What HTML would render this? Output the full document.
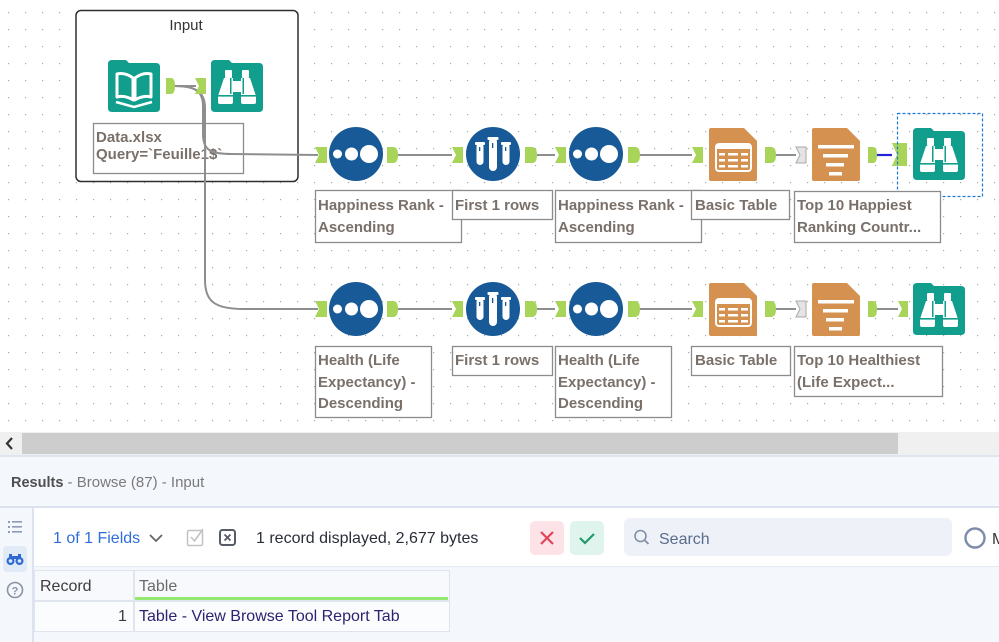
<!DOCTYPE html>
<html><head><meta charset="utf-8">
<style>
html,body{margin:0;padding:0;}
body{width:999px;height:642px;overflow:hidden;position:relative;background:#fff;font-family:"Liberation Sans",Arial,sans-serif;}
.abs{position:absolute;}
.t{position:absolute;white-space:nowrap;}
</style></head>
<body>
<svg class="abs" style="left:0;top:0" width="999" height="432" viewBox="0 0 999 432" xmlns="http://www.w3.org/2000/svg">
<defs>
<pattern id="dots" x="0" y="0" width="17" height="17" patternUnits="userSpaceOnUse">
<rect x="8" y="12" width="1.2" height="1.2" fill="#a9a9a9"/>
</pattern>
<g id="teal">
<path d="M0,4 Q0,0 4,0 H18 L21,3 H48 Q52,3 52,7 V48 Q52,52 48,52 H4 Q0,52 0,48 Z" fill="#119e8d"/>
</g>
<g id="bino">
<use href="#teal"/>
<rect x="14" y="10" width="7" height="8" rx="1" fill="#fff"/>
<rect x="31" y="10" width="7" height="8" rx="1" fill="#fff"/>
<path d="M13,18 H22 V42 Q22,44 20,44 H9 Q7,44 7,42 V36 Z" fill="#fff"/>
<path d="M39,18 H30 V42 Q30,44 32,44 H43 Q45,44 45,42 V36 Z" fill="#fff"/>
<rect x="22" y="21" width="8" height="11" fill="#fff"/>
<rect x="7" y="35" width="15" height="1.6" fill="#119e8d"/>
<rect x="30" y="35" width="15" height="1.6" fill="#119e8d"/>
<rect x="19" y="18" width="1.5" height="16" fill="#119e8d"/>
<rect x="31.5" y="18" width="1.5" height="16" fill="#119e8d"/>
</g>
<g id="doc">
<path d="M2,0 H35 L48,13 V51 Q48,53 46,53 H2 Q0,53 0,51 V2 Q0,0 2,0 Z" fill="#d4914f"/>
</g>
<g id="tbl">
<use href="#doc"/>
<rect x="7" y="16" width="35" height="27" rx="3" fill="none" stroke="#fff" stroke-width="2"/>
<rect x="7" y="16" width="35" height="5" rx="2" fill="#fff"/>
<rect x="10" y="25" width="6" height="2.5" fill="#fff"/><rect x="19" y="25" width="10" height="2.5" fill="#fff"/><rect x="32" y="25" width="7" height="2.5" fill="#fff"/>
<rect x="10" y="31" width="6" height="2.5" fill="#fff"/><rect x="19" y="31" width="10" height="2.5" fill="#fff"/><rect x="32" y="31" width="7" height="2.5" fill="#fff"/>
<rect x="10" y="37" width="6" height="2.5" fill="#fff"/><rect x="19" y="37" width="10" height="2.5" fill="#fff"/><rect x="32" y="37" width="7" height="2.5" fill="#fff"/>
</g>
<g id="lay">
<use href="#doc"/>
<rect x="6" y="17" width="36" height="3.5" fill="#fff"/>
<rect x="11" y="26" width="25" height="3.5" fill="#fff"/>
<rect x="14" y="35" width="18" height="3.5" fill="#fff"/>
<rect x="17" y="44" width="13" height="3.5" fill="#fff"/>
</g>
<g id="sort">
<circle cx="0" cy="0" r="27" fill="#175a97"/>
<circle cx="-18.5" cy="0" r="4.5" fill="#fff"/>
<circle cx="-4.5" cy="0" r="6.5" fill="#fff"/>
<circle cx="13" cy="0" r="9" fill="#fff"/>
</g>
<g id="samp">
<circle cx="0" cy="0" r="27" fill="#175a97"/>
<rect x="-5.5" y="-17" width="11" height="3" rx="1" fill="#fff"/>
<rect x="-4" y="-16" width="8" height="33" rx="4" fill="#fff"/>
<rect x="-18" y="-12" width="10" height="3" rx="1" fill="#fff"/>
<rect x="-16.5" y="-11" width="7" height="22" rx="3.5" fill="#fff"/>
<rect x="8" y="-12" width="10" height="3" rx="1" fill="#fff"/>
<rect x="9.5" y="-11" width="7" height="22" rx="3.5" fill="#fff"/>
<rect x="-1" y="-11" width="1.3" height="5" fill="#175a97"/>
<rect x="-14" y="-7" width="1.3" height="4" fill="#175a97"/>
<rect x="12" y="-7" width="1.3" height="4" fill="#175a97"/>
</g>
</defs>
<rect width="999" height="432" fill="#fff"/>
<rect width="999" height="432" fill="url(#dots)"/>

<!-- Input container -->
<rect x="76" y="10.5" width="222" height="171" rx="5" fill="#fff" stroke="#2e2e2e" stroke-width="1.5"/>
<text x="186" y="30" font-size="15" text-anchor="middle" fill="#333" font-family="Liberation Sans, sans-serif">Input</text>
<!-- input book icon -->
<g transform="translate(108,60)">
<use href="#teal"/>
<path d="M9,14 Q17,12 25,18 V40 Q17,35 9,37 Z" fill="none" stroke="#fff" stroke-width="3" stroke-linejoin="round"/>
<path d="M43,14 Q35,12 27,18 V40 Q35,35 43,37 Z" fill="none" stroke="#fff" stroke-width="3" stroke-linejoin="round"/>
<path d="M8,42 L26,47 L44,42" fill="none" stroke="#fff" stroke-width="2.5"/>
</g>
<use href="#bino" transform="translate(211,60)"/>

<rect x="93.5" y="123.5" width="150" height="50" fill="#fff" stroke="#8c8c8c" stroke-width="1.3"/>
<g font-family="Liberation Sans, sans-serif" font-weight="bold" font-size="15" fill="#7a706a">
<text x="96" y="142">Data.xlsx</text>
<text x="96" y="159">Query=`Feuille1$`</text>
</g>

<!-- connectors -->
<g fill="none" stroke="#8e8e8e" stroke-width="2">
<path d="M175,86 L196,86"/>
<path d="M175,86 C196,86 203,92 203,106 L203,134 C203,150 210,154 232,154 L318,155"/>
<path d="M175,86 C197,86 205,93 205,108 L205,280 C205,301 214,309 244,309 L318,309"/>
<path d="M398,155 H452 M537,155 H555 M640,155 H692 M776,155 H796"/>
<path d="M398,309 H452 M537,309 H555 M640,309 H692 M776,309 H796 M877,309 H898"/>
</g>
<path d="M877,155 H892" stroke="#2323d8" stroke-width="2.2"/>

<!-- anchors input container -->
<path d="M166,78 H171 Q175,78 175,86 Q175,94 171,94 H166 Z" fill="#a8d45a"/>
<path d="M195,78 H206 V94 H195 L199,86 Z" fill="#a8d45a"/>

<!-- tools top row -->
<use href="#sort" transform="translate(356,154)"/>
<use href="#samp" transform="translate(493,154)"/>
<use href="#sort" transform="translate(596,154)"/>
<use href="#tbl" transform="translate(709,128)"/>
<use href="#lay" transform="translate(812,128)"/>
<use href="#bino" transform="translate(913,128)"/>
<!-- tools bottom row -->
<use href="#sort" transform="translate(356,309)"/>
<use href="#samp" transform="translate(493,309)"/>
<use href="#sort" transform="translate(596,309)"/>
<use href="#tbl" transform="translate(709,283)"/>
<use href="#lay" transform="translate(812,283)"/>
<use href="#bino" transform="translate(913,283)"/>

<!-- anchors top row -->
<g fill="#a8d45a">
<path d="M315,147 H327 V163 H315 L319,155 Z"/>
<path d="M387,147 H393 Q398,147 398,155 Q398,163 393,163 H387 Z"/>
<path d="M452,147 H463 V163 H452 L456,155 Z"/>
<path d="M525,147 H532 Q537,147 537,155 Q537,163 532,163 H525 Z"/>
<path d="M555,147 H566 V163 H555 L559,155 Z"/>
<path d="M628,147 H635 Q640,147 640,155 Q640,163 635,163 H628 Z"/>
<path d="M692,147 H703 V163 H692 L696,155 Z"/>
<path d="M765,147 H771 Q776,147 776,155 Q776,163 771,163 H765 Z"/>
<path d="M868,147 H873 Q877,147 877,155 Q877,163 873,163 H868 Z"/>
<path d="M892,143 H907 V166 H892 L897,154.5 Z"/>
</g>
<path d="M796,147 H806 V163 H796 L800,155 Z" fill="#e4e4e4" stroke="#a8a8a8" stroke-width="1"/>
<!-- anchors bottom row -->
<g fill="#a8d45a">
<path d="M315,301 H327 V317 H315 L319,309 Z"/>
<path d="M387,301 H393 Q398,301 398,309 Q398,317 393,317 H387 Z"/>
<path d="M452,301 H463 V317 H452 L456,309 Z"/>
<path d="M525,301 H532 Q537,301 537,309 Q537,317 532,317 H525 Z"/>
<path d="M555,301 H566 V317 H555 L559,309 Z"/>
<path d="M628,301 H635 Q640,301 640,309 Q640,317 635,317 H628 Z"/>
<path d="M692,301 H703 V317 H692 L696,309 Z"/>
<path d="M765,301 H771 Q776,301 776,309 Q776,317 771,317 H765 Z"/>
<path d="M868,301 H873 Q877,301 877,309 Q877,317 873,317 H868 Z"/>
<path d="M898,301 H908 V317 H898 L902,309 Z"/>
</g>
<path d="M796,301 H806 V317 H796 L800,309 Z" fill="#e4e4e4" stroke="#a8a8a8" stroke-width="1"/>

<!-- selection -->
<rect x="897.5" y="113.5" width="85" height="83" fill="none" stroke="#1e78d2" stroke-width="1.2" stroke-dasharray="3,2"/>

<!-- annotations -->
<g fill="#fff" stroke="#8c8c8c" stroke-width="1.3">
<rect x="315.5" y="190.5" width="146" height="52"/>
<rect x="555.5" y="190.5" width="146" height="52"/>
<rect x="452.5" y="190.5" width="100" height="29"/>
<rect x="691.5" y="190.5" width="98" height="29"/>
<rect x="794.5" y="191.5" width="146" height="51"/>
<rect x="315.5" y="346.5" width="116" height="71"/>
<rect x="555.5" y="346.5" width="116" height="71"/>
<rect x="452.5" y="346.5" width="100" height="29"/>
<rect x="691.5" y="346.5" width="99" height="29"/>
<rect x="794.5" y="346.5" width="148" height="50"/>
</g>
<g font-family="Liberation Sans, sans-serif" font-weight="bold" font-size="15" fill="#7a706a">
<text x="318" y="210">Happiness Rank -</text>
<text x="318" y="232">Ascending</text>
<text x="455" y="210">First 1 rows</text>
<text x="558" y="210">Happiness Rank -</text>
<text x="558" y="232">Ascending</text>
<text x="695" y="210">Basic Table</text>
<text x="797" y="210">Top 10 Happiest</text>
<text x="797" y="232">Ranking Countr...</text>
<text x="318" y="365">Health (Life</text>
<text x="318" y="387">Expectancy) -</text>
<text x="318" y="408">Descending</text>
<text x="455" y="365">First 1 rows</text>
<text x="558" y="365">Health (Life</text>
<text x="558" y="387">Expectancy) -</text>
<text x="558" y="408">Descending</text>
<text x="695" y="365">Basic Table</text>
<text x="797" y="365">Top 10 Healthiest</text>
<text x="797" y="387">(Life Expect...</text>
</g>
</svg>

<!-- scrollbar -->
<div class="abs" style="left:0;top:432px;width:999px;height:23px;background:#f0f0f0;"></div>
<div class="abs" style="left:22px;top:433px;width:876px;height:21px;background:#cdcdcd;"></div>
<svg class="abs" style="left:0;top:432px" width="22" height="23"><polyline points="12,6 7,11.5 12,17" fill="none" stroke="#333" stroke-width="2.2"/></svg>
<div class="abs" style="left:0;top:455px;width:999px;height:2px;background:#dfe5ef;"></div>

<!-- results header -->
<div class="abs" style="left:0;top:457px;width:999px;height:185px;background:#f4f7fb;"></div>
<div class="t" style="left:11px;top:474px;font-size:15px;color:#555;"><b style="font-size:14.5px;color:#4f4f4f;">Results</b><span style="color:#7a7a7a;"> - Browse (87) - Input</span></div>
<div class="abs" style="left:0;top:506px;width:999px;height:1.5px;background:#dce3ee;"></div>

<!-- sidebar -->
<div class="abs" style="left:32px;top:508px;width:1.5px;height:134px;background:#dce3ee;"></div>
<svg class="abs" style="left:0;top:508px" width="32" height="134">
<g fill="#8d9bb6"><rect x="8" y="13" width="2" height="2"/><rect x="8" y="18" width="2" height="2"/><rect x="8" y="23" width="2" height="2"/>
<rect x="12" y="13" width="10" height="1.6"/><rect x="12" y="18" width="10" height="1.6"/><rect x="12" y="23" width="10" height="1.6"/></g>
<rect x="3" y="38" width="24" height="26" rx="4" fill="#e1ebf8"/>
<g fill="#2e6bd1"><circle cx="10.5" cy="53" r="4"/><circle cx="19.5" cy="53" r="4"/><rect x="9" y="46" width="3" height="5"/><rect x="18" y="46" width="3" height="5"/><rect x="12" y="48" width="6" height="3"/></g>
<circle cx="10.5" cy="53" r="1.8" fill="#e1ebf8"/><circle cx="19.5" cy="53" r="1.8" fill="#e1ebf8"/>
<circle cx="15" cy="82" r="7.5" fill="none" stroke="#8a93a3" stroke-width="1.6"/>
<text x="15" y="86.5" font-size="11" font-weight="bold" text-anchor="middle" fill="#8a93a3" font-family="Liberation Sans, sans-serif">?</text>
</svg>

<!-- toolbar -->
<div class="abs" style="left:34px;top:508px;width:965px;height:58px;background:#fff;"></div>
<div class="abs" style="left:34px;top:566px;width:965px;height:1px;background:#e6ebf2;"></div>
<div class="t" style="left:53px;top:530px;font-size:16px;color:#2d6fd8;">1 of 1 Fields</div>
<svg class="abs" style="left:140px;top:520px" width="110" height="36">
<polyline points="10,15 16,21 22,15" fill="none" stroke="#666" stroke-width="1.8"/>
<rect x="47.5" y="10.5" width="15" height="15" rx="1.5" fill="none" stroke="#c2c2c2" stroke-width="1.5"/>
<polyline points="51,17 54.5,21 63,9" fill="none" stroke="#c2c2c2" stroke-width="1.6"/>
<rect x="80" y="10" width="15" height="15" rx="2.5" fill="none" stroke="#555c68" stroke-width="2"/>
<path d="M84.5,14.5 L90.5,20.5 M90.5,14.5 L84.5,20.5" stroke="#555c68" stroke-width="1.8"/>
</svg>
<div class="t" style="left:256px;top:530px;font-size:16px;color:#2a2e38;">1 record displayed, 2,677 bytes</div>

<div class="abs" style="left:530px;top:521px;width:34px;height:34px;border-radius:5px;background:#fde3e7;"></div>
<svg class="abs" style="left:530px;top:521px" width="34" height="34"><path d="M11,11 L23,23 M23,11 L11,23" stroke="#e0455a" stroke-width="2.2"/></svg>
<div class="abs" style="left:570px;top:521px;width:34px;height:34px;border-radius:5px;background:#dff4ec;"></div>
<svg class="abs" style="left:570px;top:521px" width="34" height="34"><polyline points="10,17 15,22 24,13" fill="none" stroke="#1f9a6a" stroke-width="2.2"/></svg>

<div class="abs" style="left:624px;top:518px;width:328px;height:38px;border-radius:6px;background:#eef2f8;"></div>
<svg class="abs" style="left:630px;top:526px" width="24" height="24"><circle cx="10.5" cy="10" r="5.5" fill="none" stroke="#8090aa" stroke-width="1.6"/><path d="M14.5,14 L18.5,18" stroke="#8090aa" stroke-width="1.8"/></svg>
<div class="t" style="left:659px;top:531px;font-size:16px;color:#5a6b8c;">Search</div>
<svg class="abs" style="left:962px;top:525px" width="37" height="27"><circle cx="13" cy="13" r="9.5" fill="none" stroke="#7d8cab" stroke-width="2.4"/><text x="30" y="19" font-size="16" fill="#333" font-family="Liberation Sans, sans-serif">M</text></svg>

<!-- table -->
<div class="abs" style="left:34px;top:570px;width:98px;height:29px;background:#f7f9fc;border:1px solid #dfe4ed;"></div>
<div class="abs" style="left:134px;top:570px;width:314px;height:29px;background:#f7f9fc;border:1px solid #dfe4ed;"></div>
<div class="abs" style="left:135px;top:597px;width:313px;height:2.5px;background:#95e86e;"></div>
<div class="abs" style="left:34px;top:601px;width:98px;height:29px;background:#fbfcfe;border:1px solid #dfe4ed;"></div>
<div class="abs" style="left:134px;top:601px;width:314px;height:29px;background:#fbfcfe;border:1px solid #dfe4ed;"></div>
<div class="t" style="left:40px;top:578px;font-size:16px;color:#3d3d3d;">Record</div>
<div class="t" style="left:139px;top:578px;font-size:16px;color:#6b6b6b;">Table</div>
<div class="t" style="left:118px;top:608px;font-size:16px;color:#3d3d3d;">1</div>
<div class="t" style="left:139px;top:608px;font-size:16px;color:#2b2470;">Table - View Browse Tool Report Tab</div>
</body></html>
